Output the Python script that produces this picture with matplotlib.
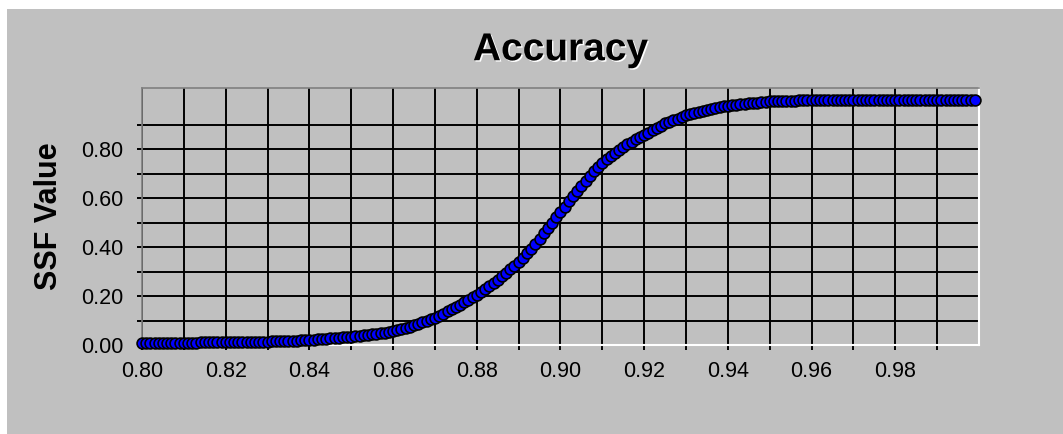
import numpy as np
import matplotlib
matplotlib.use('Agg')
import matplotlib.pyplot as plt
import matplotlib.patheffects as pe
from matplotlib.patches import Rectangle
from matplotlib.ticker import FixedLocator

# Accuracy values sampled every 0.001 from 0.800 to 0.999
accuracy = np.round(np.linspace(0.800, 0.999, 200), 3)

# SSF value, one row per 0.01 of accuracy
ssf_value = [
    0.010, 0.010, 0.010, 0.010, 0.010, 0.010, 0.010, 0.010, 0.010, 0.010,  # 0.80
    0.010, 0.010, 0.010, 0.010, 0.011, 0.011, 0.011, 0.011, 0.011, 0.011,  # 0.81
    0.011, 0.012, 0.012, 0.012, 0.012, 0.013, 0.013, 0.013, 0.014, 0.014,  # 0.82
    0.014, 0.015, 0.015, 0.016, 0.016, 0.017, 0.018, 0.018, 0.019, 0.020,  # 0.83
    0.021, 0.022, 0.023, 0.024, 0.025, 0.027, 0.028, 0.029, 0.031, 0.032,  # 0.84
    0.034, 0.036, 0.037, 0.039, 0.041, 0.043, 0.046, 0.048, 0.050, 0.053,  # 0.85
    0.056, 0.060, 0.064, 0.069, 0.074, 0.080, 0.086, 0.092, 0.098, 0.105,  # 0.86
    0.112, 0.120, 0.128, 0.137, 0.146, 0.155, 0.165, 0.175, 0.185, 0.195,  # 0.87
    0.205, 0.216, 0.228, 0.240, 0.253, 0.266, 0.280, 0.294, 0.309, 0.324,  # 0.88
    0.340, 0.357, 0.375, 0.394, 0.414, 0.435, 0.456, 0.477, 0.499, 0.521,  # 0.89
    0.543, 0.565, 0.587, 0.608, 0.629, 0.650, 0.670, 0.690, 0.709, 0.727,  # 0.90
    0.745, 0.759, 0.772, 0.785, 0.798, 0.810, 0.820, 0.830, 0.840, 0.849,  # 0.91
    0.858, 0.868, 0.877, 0.887, 0.896, 0.905, 0.912, 0.918, 0.925, 0.932,  # 0.92
    0.938, 0.943, 0.948, 0.953, 0.958, 0.962, 0.966, 0.969, 0.972, 0.975,  # 0.93
    0.978, 0.980, 0.982, 0.984, 0.986, 0.988, 0.989, 0.990, 0.992, 0.993,  # 0.94
    0.995, 0.995, 0.996, 0.996, 0.997, 0.998, 0.998, 0.999, 0.999, 0.999,  # 0.95
    1.000, 1.000, 1.000, 1.000, 1.000, 1.000, 1.000, 1.000, 1.000, 1.000,  # 0.96
    1.000, 1.000, 1.000, 1.000, 1.000, 1.000, 1.000, 1.000, 1.000, 1.000,  # 0.97
    1.000, 1.000, 1.000, 1.000, 1.000, 1.000, 1.000, 1.000, 1.000, 1.000,  # 0.98
    1.000, 1.000, 1.000, 1.000, 1.000, 1.000, 1.000, 1.000, 1.000, 1.000,  # 0.99
]

x_labels = ['0.80', '0.82', '0.84', '0.86', '0.88', '0.90', '0.92', '0.94', '0.96', '0.98']
y_labels = ['0.00', '0.20', '0.40', '0.60', '0.80']

plt.rcParams['font.family'] = ['Liberation Sans', 'DejaVu Sans']

W, H = 1063, 434
bg = '#C0C0C0'
fig = plt.figure(figsize=(W / 100, H / 100), dpi=100, facecolor='white')
# gray chart area, leaving the thin white strip on the top and left
fig.patches.append(Rectangle((7 / W, 0), 1 - 7 / W, 1 - 9 / H,
                             transform=fig.transFigure, facecolor=bg,
                             edgecolor='none', zorder=-10))

ax = fig.add_axes([142 / W, (H - 345) / H, 837 / W, 257 / H])
ax.set_facecolor(bg)

ax.plot(accuracy, ssf_value, linestyle='none', marker='o', markersize=7.8,
        markerfacecolor='#0000FF', markeredgecolor='black', markeredgewidth=1.2,
        clip_on=False, zorder=3)

ax.set_xlim(0.80, 1.00)
ax.set_ylim(0.0, 1.05)

ax.xaxis.set_major_locator(FixedLocator([0.80 + 0.02 * i for i in range(len(x_labels))]))
ax.set_xticklabels(x_labels)
ax.xaxis.set_minor_locator(FixedLocator([0.81 + 0.02 * i for i in range(10)]))
ax.yaxis.set_major_locator(FixedLocator([0.2 * i for i in range(len(y_labels))]))
ax.set_yticklabels(y_labels)
ax.yaxis.set_minor_locator(FixedLocator([0.1, 0.3, 0.5, 0.7, 0.9]))

ax.grid(True, which='both', color='black', linewidth=1.4)
ax.set_axisbelow(True)
ax.tick_params(which='both', direction='out', length=3.5, width=1.4, color='black',
               labelsize=15.5, labelcolor='black')
ax.tick_params(axis='x', which='major', pad=8)
ax.tick_params(axis='y', which='major', pad=10)

for side in ['left', 'top']:
    ax.spines[side].set_color('#808080')
    ax.spines[side].set_linewidth(1.2)
for side in ['right', 'bottom']:
    ax.spines[side].set_color('white')
    ax.spines[side].set_linewidth(1.5)

ax.set_ylabel('SSF Value', fontsize=22, fontweight='bold', labelpad=12)
shadow = [pe.SimplePatchShadow(offset=(1, -1), shadow_rgbFace='white', alpha=1.0), pe.Normal()]
ax.set_title('Accuracy', fontsize=28, fontweight='bold', pad=20, path_effects=shadow)

fig.savefig('out.png', dpi=100, facecolor=fig.get_facecolor())
